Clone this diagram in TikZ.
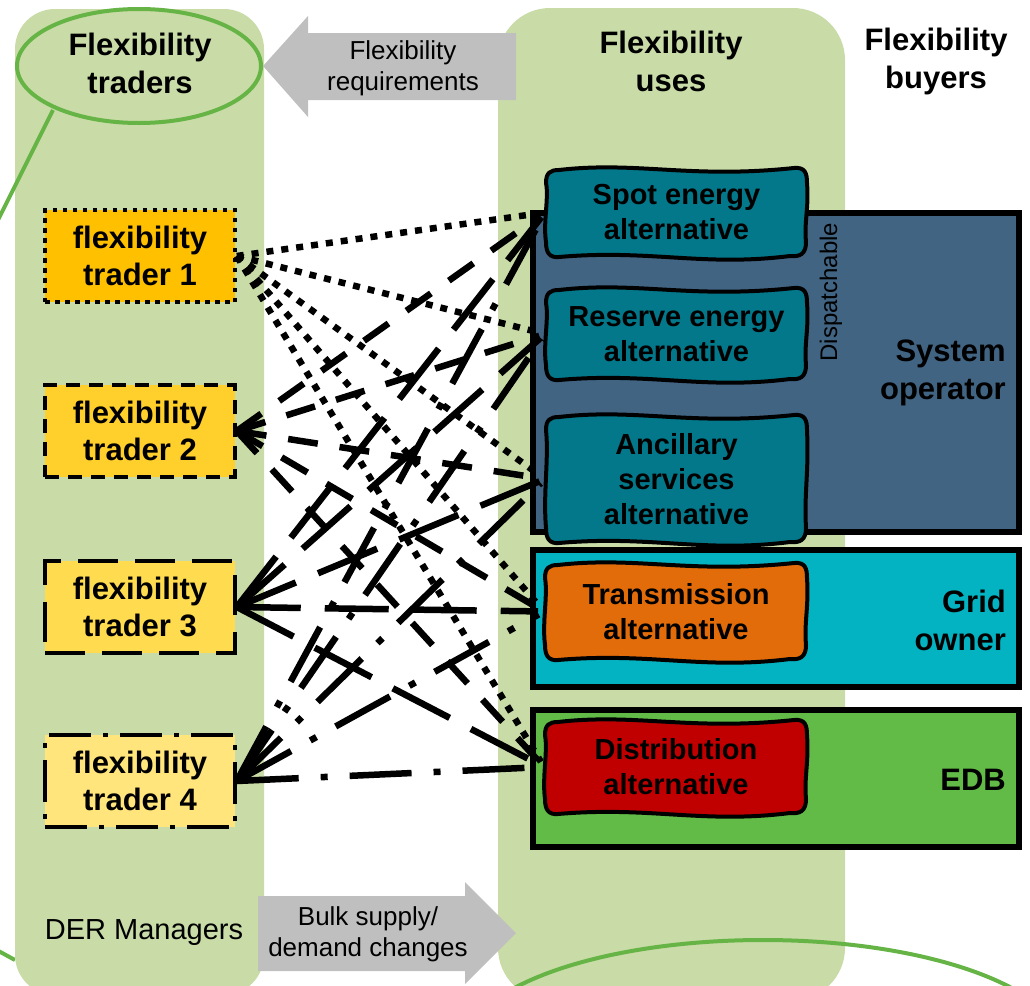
\documentclass[tikz,border=0pt]{standalone}
\usepackage{fontspec}
\setmainfont{Liberation Sans}
\definecolor{colgreen}{HTML}{C9DCA7}
\definecolor{ringgreen}{HTML}{66B446}
\definecolor{arrowgray}{HTML}{BFBFBF}
\definecolor{sofill}{HTML}{416483}
\definecolor{gofill}{HTML}{03B3C1}
\definecolor{edbfill}{HTML}{62BB46}
\definecolor{tealfill}{HTML}{03788A}
\definecolor{orangefill}{HTML}{E36C0A}
\definecolor{redfill}{HTML}{C00000}
\definecolor{ta}{HTML}{FFC000}
\definecolor{tb}{HTML}{FFCF2C}
\definecolor{tc}{HTML}{FFDB4F}
\definecolor{td}{HTML}{FFE57C}

% wavy "flexibility use" box: name, x1, y1, x2, y2, fill, text
\newcommand\wavyuse[7]{%
  \pgfmathsetmacro\wW{#4-#2}%
  \pgfmathsetmacro\wH{#5-#3}%
  \filldraw[fill=#6, draw=black, line width=4pt, line join=round]
    ({#2+14},{#3+5})
    .. controls ({#2+0.35*\wW},{#3-4}) and ({#2+0.55*\wW},{#3+14}) .. ({#4-14},{#3+3})
    .. controls ({#4-3},{#3+2}) and ({#4-1},{#3+8}) .. ({#4-1},{#3+18})
    .. controls ({#4+1},{#3+0.45*\wH}) and ({#4-4},{#5-0.4*\wH}) .. ({#4-2},{#5-18})
    .. controls ({#4-2},{#5-6}) and ({#4-8},{#5-3}) .. ({#4-18},{#5-4})
    .. controls ({#2+0.6*\wW},{#5+7}) and ({#2+0.4*\wW},{#5-11}) .. ({#2+14},{#5-3})
    .. controls ({#2+4},{#5-2}) and ({#2+1},{#5-8}) .. ({#2+1},{#5-18})
    .. controls ({#2-2},{#3+0.6*\wH}) and ({#2+4},{#3+0.35*\wH}) .. ({#2+1},{#3+18})
    .. controls ({#2+1},{#3+8}) and ({#2+5},{#3+5}) .. ({#2+14},{#3+5}) -- cycle;
  \node[usetext, minimum width=\wW, minimum height=\wH] (#1)
    at ({(#2+#4)/2},{(#3+#5)/2}) {#7};
}

\begin{document}
\begin{tikzpicture}[x=1pt, y=-1pt,
  boldtxt/.style={font=\fontsize{31}{38}\selectfont\bfseries, align=center, inner sep=0pt},
  plaintxt/.style={font=\fontsize{26}{31}\selectfont, align=center, inner sep=0pt},
  usetext/.style={font=\fontsize{29}{35}\selectfont\bfseries, align=center, inner sep=0pt, outer sep=0pt},
  column/.style={fill=colgreen, rounded corners=#1},
  grayarrow/.style={fill=arrowgray},
  ring/.style={draw=ringgreen, line width=4pt},
  buyer/.style={draw=black, line width=6pt, inner sep=0pt, outer sep=0pt},
  trader/.style={boldtxt, font=\fontsize{31}{37}\selectfont\bfseries, draw=black, line width=3.5pt, minimum width=190pt, minimum height=92pt},
  c1/.style={line width=6.5pt, dash pattern=on 7pt off 8pt},
  c2/.style={line width=6.5pt, dash pattern=on 30pt off 22pt},
  c3/.style={line width=6.5pt, dash pattern=on 64pt off 24pt},
  c4/.style={line width=6.5pt, dash pattern=on 62pt off 22pt on 7pt off 22pt},
]
\useasboundingbox (0,0) rectangle (1030,985);
\clip (0,0) rectangle (1030,985);

% outer callout strokes behind the columns
\draw[ring] (-40,930) -- (15,960);

% the two columns
\fill[column=40pt] (15,9) rectangle (264,995);
\fill[column=52pt] (498,8) rectangle (845,1000);

% gray flow arrows
\fill[grayarrow] (516,33) -- (308,33) -- (308,16) -- (263,66) -- (308,117) -- (308,100) -- (516,100) -- cycle;
\node[plaintxt] (req) at (403,68) {Flexibility\\requirements};
\fill[grayarrow] (258,896) -- (465,896) -- (465,882) -- (516,933) -- (465,984) -- (465,971) -- (258,971) -- cycle;
\node[plaintxt] (bulk) at (368,934) {Bulk supply/\\demand changes};

% callout rings
\draw[ring] (139,66) ellipse [x radius=122, y radius=57];
\draw[ring] (53,110) -- (-10,236);
\draw[ring] (763,1049) ellipse [x radius=300, y radius=109];

% column headings
\node[boldtxt] (hTraders) at (140,63) {Flexibility\\traders};
\node[boldtxt] (hUses) at (671,61) {Flexibility\\uses};
\node[boldtxt] (hBuyers) at (936,61) {Flexibility\\buyers};
\node[font=\fontsize{29}{34}\selectfont, inner sep=0pt] (der) at (144,933) {DER Managers};

% flexibility buyers
\node[buyer, fill=sofill, minimum width=486pt, minimum height=319pt, anchor=north west] (so) at (533,213) {};
\node[buyer, fill=gofill, minimum width=486pt, minimum height=137pt, anchor=north west] (go) at (533,550) {};
\node[buyer, fill=edbfill, minimum width=486pt, minimum height=137pt, anchor=north west] (edb) at (533,710) {};
\node[boldtxt, align=right, anchor=east] (soT) at (1006,373) {System\\operator};
\node[boldtxt, align=right, anchor=east] (goT) at (1006,620) {Grid\\owner};
\node[boldtxt, anchor=east] (edbT) at (1006,780) {EDB};
\node[font=\fontsize{24}{28}\selectfont, rotate=90, inner sep=0pt] (disp) at (831,292) {Dispatchable};

% flexibility traders
\node[trader, fill=ta, dash pattern=on 4.5pt off 5.5pt] (t1) at (140,256) {flexibility\\trader 1};
\node[trader, fill=tb, dash pattern=on 14pt off 9pt] (t2) at (140,431) {flexibility\\trader 2};
\node[trader, fill=tc, dash pattern=on 40pt off 17pt] (t3) at (140,607) {flexibility\\trader 3};
\node[trader, fill=td, dash pattern=on 42pt off 12pt on 5pt off 12pt] (t4) at (140,781) {flexibility\\trader 4};

% entry points on the left side of the use boxes
\foreach \n/\xa/\ya/\xb/\yb in {spot/545/165/808/260, res/545/285/808/383, anc/545/412/808/546, trans/544/560/808/663, dist/544/717/808/817}
  \coordinate (\n-in) at (\xa,{(\ya+\yb)/2});

% links between every trader and every use
\foreach \t/\s in {t1/c1, t2/c2, t3/c3, t4/c4}
  \foreach \u in {spot, res, anc, trans, dist}
    \draw[\s, shorten >=6pt] (\t.east) -- (\u-in);

% flexibility uses
\wavyuse{spot}{545}{165}{808}{260}{tealfill}{Spot energy\\alternative}
\wavyuse{res}{545}{285}{808}{383}{tealfill}{Reserve energy\\alternative}
\wavyuse{anc}{545}{412}{808}{546}{tealfill}{Ancillary\\services\\alternative}
\wavyuse{trans}{544}{560}{808}{663}{orangefill}{Transmission\\alternative}
\wavyuse{dist}{544}{717}{808}{817}{redfill}{Distribution\\alternative}
\end{tikzpicture}
\end{document}
